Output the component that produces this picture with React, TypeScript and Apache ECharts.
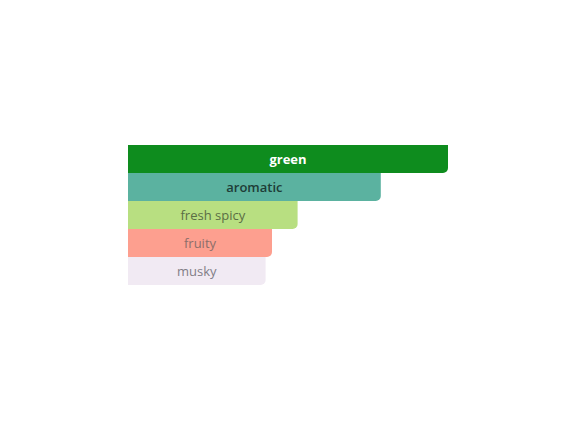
import React, { useEffect, useRef } from "react";
import * as echarts from "echarts";

const categories = ["green", "aromatic", "fresh spicy", "fruity", "musky"];
const values = [100, 79, 53, 45, 43];
const barColors = ["#0e8c1e", "#5bb2a0", "#b8df81", "#fd9f8f", "#f1eaf3"];
const labelColors = ["#ffffff", "#1e3d37", "#5a6e45", "#8c6e6a", "#817d86"];
const labelWeights = ["bold", 600, "normal", "normal", "normal"];

export default function App() {
  const ref = useRef<HTMLDivElement>(null);
  useEffect(() => {
    document.body.style.margin = "0";
    const chart = echarts.init(ref.current!, null, { renderer: "svg" });
    chart.setOption({
      animation: false,
      grid: { left: 128, top: 145, width: 320, height: 140 },
      xAxis: { type: "value", min: 0, max: 100, show: false },
      yAxis: {
        type: "category",
        data: categories,
        inverse: true,
        show: false,
      },
      series: [
        {
          type: "bar",
          barCategoryGap: 0,
          data: values.map((v, i) => ({
            value: v,
            itemStyle: { color: barColors[i], borderRadius: [0, 0, 5, 0] },
            label: { color: labelColors[i], fontWeight: labelWeights[i] },
          })),
          label: {
            show: true,
            position: "inside",
            formatter: (p: any) => categories[p.dataIndex],
            fontSize: 13,
            fontFamily: "Open Sans",
          },
        },
      ],
    });
    return () => chart.dispose();
  }, []);
  return <div ref={ref} style={{ width: 574, height: 442 }} />;
}
